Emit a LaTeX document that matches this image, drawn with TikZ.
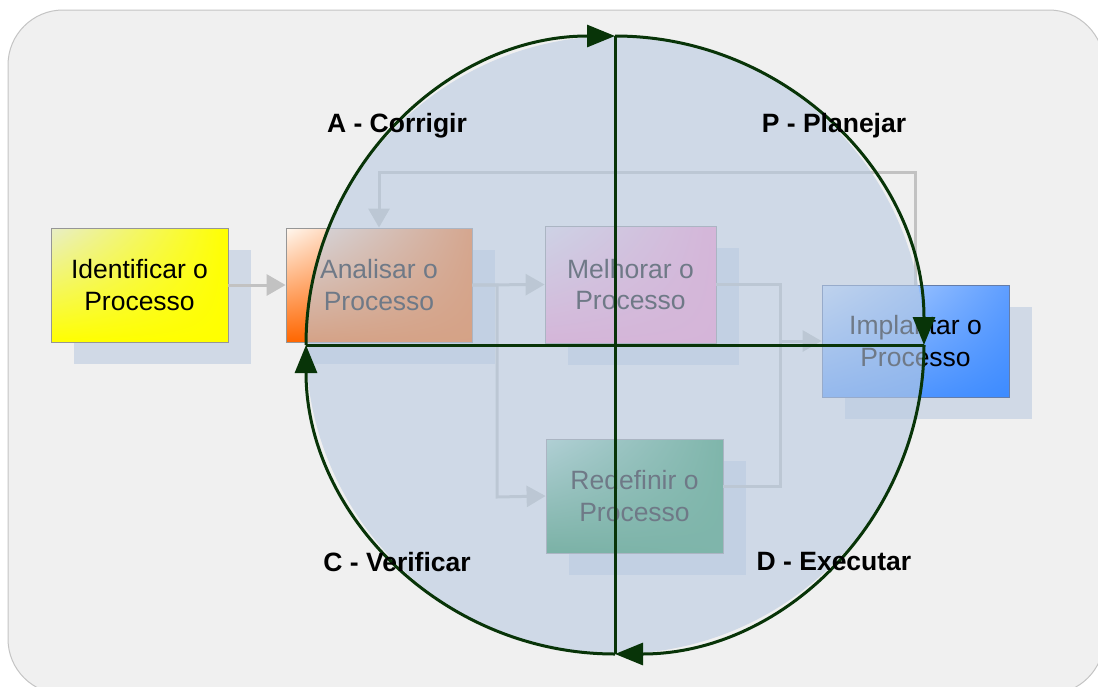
\documentclass[tikz,border=0pt]{standalone}
\usepackage{fontspec}
\setmainfont{Liberation Sans}
\usetikzlibrary{arrows.meta,shadings}
\definecolor{panel}{RGB}{240,240,240}
\definecolor{panelline}{RGB}{196,196,196}
\definecolor{shadowc}{RGB}{208,217,230}
\definecolor{flowc}{RGB}{194,194,194}
\definecolor{ringc}{RGB}{8,52,8}
\definecolor{overlayc}{RGB}{185,203,225}
\definecolor{boxline}{RGB}{150,150,150}
\definecolor{impline}{RGB}{100,125,170}
% box gradient colours
\definecolor{ideA}{RGB}{232,238,200}
\definecolor{ideB}{RGB}{255,255,0}
\definecolor{anaA}{RGB}{255,248,240}
\definecolor{anaB}{RGB}{255,112,20}
\definecolor{anaC}{RGB}{255,102,0}
\definecolor{melA}{RGB}{236,222,236}
\definecolor{melB}{RGB}{255,150,205}
\definecolor{impA}{RGB}{200,222,255}
\definecolor{impB}{RGB}{95,158,255}
\definecolor{impC}{RGB}{61,139,255}
\definecolor{redA}{RGB}{165,215,195}
\definecolor{redB}{RGB}{40,150,90}
\definecolor{redC}{RGB}{30,140,78}
\pgfdeclarelayer{back}
\pgfsetlayers{back,main}
\begin{document}
\begin{tikzpicture}[x=1pt,y=-1pt,
  procbox/.style={rectangle, draw=boxline, line width=0.8pt, inner sep=0pt,
    align=center, font=\fontsize{26.5}{31.5}\selectfont, text=black},
  flow/.style={draw=flowc, line width=3pt, -{Triangle[length=19pt,width=21pt]}},
  flowline/.style={draw=flowc, line width=3pt},
  ringline/.style={draw=ringc, line width=3pt},
  ringarrow/.style={ringline, -{Triangle[length=28pt,width=22pt]}},
  phase/.style={font=\fontsize{26.5}{30}\selectfont\bfseries, text=black}]

\useasboundingbox (0,0) rectangle (1098,686);

% panel
\begin{pgfonlayer}{back}
  \fill[white] (0,0) rectangle (1098,686);
  \draw[panelline, fill=panel, line width=1pt, rounded corners=55pt] (8,10) rectangle (1104,694);
\end{pgfonlayer}

% process boxes
\node[procbox, minimum width=177pt, minimum height=114pt,
  upper left=ideA, upper right=ideB, lower left=ideB, lower right=ideB]
  (ide) at (139.5,285) {Identificar o\\Processo};
\node[procbox, minimum width=186pt, minimum height=114pt,
  upper left=anaA, upper right=anaB, lower left=anaC, lower right=anaC]
  (ana) at (379,285) {Analisar o\\Processo};
\node[procbox, minimum width=171pt, minimum height=117pt,
  upper left=melA, upper right=melB, lower left=melB, lower right=melB]
  (mel) at (630.5,284.5) {Melhorar o\\Processo};
\node[procbox, draw=impline, minimum width=187pt, minimum height=112pt,
  upper left=impA, upper right=impB, lower left=impB, lower right=impC]
  (imp) at (915.5,341) {Implantar o\\Processo};
\node[procbox, minimum width=177pt, minimum height=114pt,
  upper left=redA, upper right=redB, lower left=redC, lower right=redB]
  (red) at (634.5,496) {Redefinir o\\Processo};

% drop shadows
\begin{pgfonlayer}{back}
  \foreach \b in {ide,ana,mel,imp,red}
    \fill[shadowc] ([shift={(23,22)}]\b.south west) rectangle ([shift={(23,22)}]\b.north east);
\end{pgfonlayer}

% flow connectors
\coordinate (jr) at (780,341);
\coordinate (jl) at (497,497);
\coordinate (fb) at (0,172);
\draw[flow] (ide.east) -- (ana.west);
\draw[flow] (ana.east) -- (mel.west);
\draw[flow] (ana.east) -| (jl) -- (red.west);
\draw[flowline] (mel.east) -| (jr);
\draw[flowline] ([yshift=10pt]red.east) -| (jr);
\draw[flow] (jr) -- (imp.west);
\draw[flow] (imp.north) -- (imp.north |- fb) -- (ana.north |- fb) -- (ana.north);

% PDCA ring
\coordinate (cc) at (615,345);
\coordinate (rt) at (615,36);
\coordinate (rb) at (615,654);
\coordinate (rl) at (306,345);
\coordinate (rr) at (924,345);
\fill[overlayc, fill opacity=0.6] (cc) circle[radius=309pt];
\draw[ringline] (rt) -- (rb);
\draw[ringline] (rl) -- (rr);
\draw[ringarrow] (rl) arc[start angle=180, end angle=90, radius=309pt];
\draw[ringarrow] (rt) arc[start angle=90, end angle=0, radius=309pt];
\draw[ringarrow] (rr) arc[start angle=0, end angle=-90, radius=309pt];
\draw[ringarrow] (rb) arc[start angle=-90, end angle=-180, radius=309pt];

% phase labels
\node[phase] (pa) at (397,126) {A - Corrigir};
\node[phase] (pp) at (834,126) {P - Planejar};
\node[phase] (pc) at (397,562) {C - Verificar};
\node[phase] (pd) at (834,562) {D - Executar};
\end{tikzpicture}
\end{document}
